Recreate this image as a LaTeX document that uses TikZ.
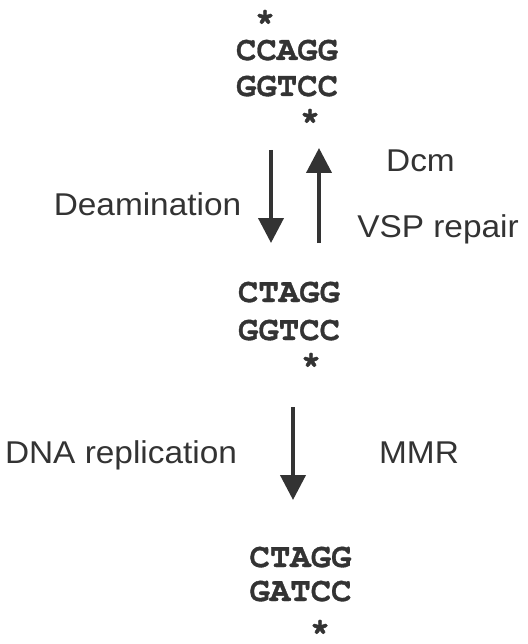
\documentclass[tikz,border=0pt]{standalone}
\usepackage{fontspec}
\setmainfont{Liberation Sans}
\newfontfamily\labfont[FakeStretch=1.06]{Liberation Sans}
\newfontfamily\seqfont[FakeBold=1]{TeX Gyre Cursor}
\usetikzlibrary{arrows.meta}
\definecolor{ink}{RGB}{51,51,51}
\tikzset{
  seq/.style={font=\seqfont\bfseries\fontsize{34}{34}\selectfont, text=ink, inner sep=0pt, anchor=base},
  star/.style={font=\seqfont\bfseries\fontsize{34}{34}\selectfont, text=ink, inner sep=0pt, anchor=base, text depth=0pt, text height=14pt},
  lab/.style={font=\labfont\fontsize{31.5}{31.5}\selectfont, text=ink, inner sep=0pt, anchor=base},
  conv/.style={draw=ink, line width=4pt, -{Triangle[width=25pt,length=25pt]}, fill=ink}
}
\begin{document}
\begin{tikzpicture}[x=1pt,y=-1pt]
\useasboundingbox (0,0) rectangle (527,644);
% top group
\node[star] (s1) at (265,31) {*};
\node[seq] (a1) at (287,60) {CCAGG};
\node[seq] (a2) at (287,96) {GGTCC};
\node[star] (s2) at (310,130) {*};
% middle group
\node[seq] (b1) at (289,302) {CTAGG};
\node[seq] (b2) at (289,340) {GGTCC};
\node[star] (s3) at (311,374) {*};
% bottom group
\node[seq] (c1) at (300.5,567) {CTAGG};
\node[seq] (c2) at (300.5,601) {GATCC};
\node[star] (s4) at (320,641) {*};
% labels
\node[lab] (deam) at (147.5,215) {Deamination};
\node[lab] (dcm) at (420.5,172) {Dcm};
\node[lab] (vsp) at (438,237) {VSP repair};
\node[lab] (rep) at (121,463) {DNA replication};
\node[lab] (mmr) at (419,463) {MMR};
% arrow ends
\coordinate (d1) at (271,150);
\coordinate (d2) at (271,243);
\coordinate (u1) at (319,243);
\coordinate (u2) at (319,148);
\coordinate (r1) at (293,407);
\coordinate (r2) at (293,500);
\draw[conv] (d1) -- (d2);
\draw[conv] (u1) -- (u2);
\draw[conv] (r1) -- (r2);
\end{tikzpicture}
\end{document}
